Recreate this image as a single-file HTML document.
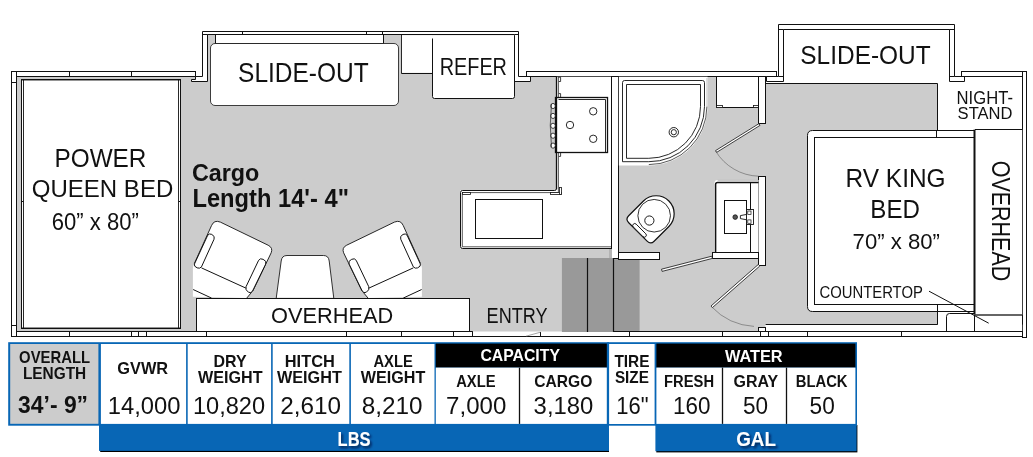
<!DOCTYPE html>
<html lang="en">
<head>
<meta charset="utf-8">
<title>Floorplan</title>
<style>html,body{margin:0;padding:0;background:#fff}svg{display:block}</style>
</head>
<body>
<svg width="1033" height="457" viewBox="0 0 1033 457" font-family="&quot;Liberation Sans&quot;, sans-serif">
<rect width="1033" height="457" fill="#fff"/>
<g id="floor">
<path d="M16.4 76.9 H207.6 V34.6 H514.7 V76.9 H765.6 V83.4 H937.6 V323.9 H765.6 V331.5 H16.4 Z" fill="#cccccc"/>
</g>
<g id="walls">
<rect x="16.50" y="71.50" width="179.00" height="5.00" fill="#fff" stroke="#111" stroke-width="1.0"/>
<line x1="69.50" y1="71.40" x2="69.50" y2="76.70" stroke="#111" stroke-width="1.0"/>
<line x1="131.50" y1="71.40" x2="131.50" y2="76.70" stroke="#111" stroke-width="1.0"/>
<rect x="16.50" y="331.50" width="1006.00" height="5.00" fill="#fff" stroke="#111" stroke-width="1.0"/>
<line x1="69.50" y1="331.40" x2="69.50" y2="336.60" stroke="#111" stroke-width="1.0"/>
<line x1="131.50" y1="331.40" x2="131.50" y2="336.60" stroke="#111" stroke-width="1.0"/>
<line x1="138.50" y1="331.40" x2="138.50" y2="336.60" stroke="#111" stroke-width="1.0"/>
<line x1="146.50" y1="331.40" x2="146.50" y2="336.60" stroke="#111" stroke-width="1.0"/>
<line x1="206.50" y1="331.40" x2="206.50" y2="336.60" stroke="#111" stroke-width="1.0"/>
<line x1="346.50" y1="331.40" x2="346.50" y2="336.60" stroke="#111" stroke-width="1.0"/>
<line x1="401.50" y1="331.40" x2="401.50" y2="336.60" stroke="#111" stroke-width="1.0"/>
<line x1="453.50" y1="331.40" x2="453.50" y2="336.60" stroke="#111" stroke-width="1.0"/>
<line x1="472.50" y1="331.40" x2="472.50" y2="336.60" stroke="#111" stroke-width="1.0"/>
<line x1="540.50" y1="331.40" x2="540.50" y2="336.60" stroke="#111" stroke-width="1.0"/>
<line x1="629.50" y1="331.40" x2="629.50" y2="336.60" stroke="#111" stroke-width="1.0"/>
<line x1="722.50" y1="331.40" x2="722.50" y2="336.60" stroke="#111" stroke-width="1.0"/>
<line x1="760.50" y1="331.40" x2="760.50" y2="336.60" stroke="#111" stroke-width="1.0"/>
<line x1="768.50" y1="331.40" x2="768.50" y2="336.60" stroke="#111" stroke-width="1.0"/>
<line x1="807.50" y1="331.40" x2="807.50" y2="336.60" stroke="#111" stroke-width="1.0"/>
<line x1="901.50" y1="331.40" x2="901.50" y2="336.60" stroke="#111" stroke-width="1.0"/>
<line x1="472.90" y1="331.50" x2="562.00" y2="331.50" stroke="#e4e4e4" stroke-width="1.2"/>
<path d="M526 336.2 L540.5 332.2" fill="none" stroke="#666" stroke-width="0.6"/>
<rect x="11.50" y="71.50" width="5.00" height="265.00" fill="#fff" stroke="#111" stroke-width="1.0"/>
<line x1="11.40" y1="325.50" x2="16.40" y2="325.50" stroke="#111" stroke-width="1.0"/>
<line x1="11.40" y1="82.50" x2="16.40" y2="82.50" stroke="#111" stroke-width="1.0"/>
<path d="M202.5 31.5 H518.5 V76.5 H530.5 V81.5 H514.5 V34.5 H207.5 V81.5 H191.5 V79.5 H195.5 V76.5 H202.5 Z" fill="#fff" stroke="#111" stroke-width="1.0"/>
<line x1="242.50" y1="31.40" x2="242.50" y2="34.70" stroke="#111" stroke-width="1.0"/>
<line x1="366.50" y1="31.40" x2="366.50" y2="34.70" stroke="#111" stroke-width="1.0"/>
<line x1="382.50" y1="31.40" x2="382.50" y2="34.70" stroke="#111" stroke-width="1.0"/>
<line x1="202.60" y1="34.50" x2="207.60" y2="34.50" stroke="#111" stroke-width="1.0"/>
<line x1="514.70" y1="34.50" x2="518.40" y2="34.50" stroke="#111" stroke-width="1.0"/>
<rect x="526.50" y="71.50" width="250.00" height="5.00" fill="#fff" stroke="#111" stroke-width="1.0"/>
<path d="M778.5 24.5 H954.5 V76.5 H964.5 V81.5 H949.5 V29.5 H783.5 V81.5 H766.5 V76.5 H778.5 Z" fill="#fff" stroke="#111" stroke-width="1.0"/>
<line x1="778.50" y1="29.50" x2="783.60" y2="29.50" stroke="#111" stroke-width="1.0"/>
<line x1="949.30" y1="76.50" x2="954.50" y2="76.50" stroke="#111" stroke-width="1.0"/>
<line x1="778.50" y1="76.50" x2="783.60" y2="76.50" stroke="#111" stroke-width="1.0"/>
<line x1="949.30" y1="29.50" x2="954.50" y2="29.50" stroke="#111" stroke-width="1.0"/>
<rect x="961.50" y="71.50" width="61.00" height="5.00" fill="#fff" stroke="#111" stroke-width="1.0"/>
<rect x="1022.50" y="71.50" width="4.00" height="266.00" fill="#fff" stroke="#111" stroke-width="1.0"/>
</g>
<g id="garage">
<rect x="21.50" y="79.50" width="159.00" height="249.00" fill="#fff" stroke="#111" stroke-width="1.0"/>
<line x1="23.50" y1="79.60" x2="23.50" y2="328.40" stroke="#111" stroke-width="0.9"/>
<line x1="178.50" y1="79.60" x2="178.50" y2="328.40" stroke="#111" stroke-width="0.9"/>
<line x1="21.10" y1="80.40" x2="180.80" y2="80.40" stroke="#111" stroke-width="0.5"/>
<line x1="21.10" y1="327.60" x2="180.80" y2="327.60" stroke="#111" stroke-width="0.5"/>
<line x1="21.10" y1="201.50" x2="23.30" y2="201.50" stroke="#111" stroke-width="1.0"/>
<line x1="178.70" y1="201.50" x2="180.80" y2="201.50" stroke="#111" stroke-width="1.0"/>
<rect x="215.50" y="34.50" width="168.00" height="9.00" fill="#fff" stroke="#111" stroke-width="1.0"/>
<rect x="210.50" y="43.50" width="188.00" height="62.00" fill="#fff" stroke="#111" stroke-width="0.8" rx="4.5"/>
<path d="M401.5 34.5 V73.5 H432.5" fill="none" stroke="#111" stroke-width="1.0"/>
<rect x="401.90" y="35.20" width="30.20" height="37.60" fill="#fff"/>
<path d="M432.1 38 V96.5 Q432.1 98.5 434.1 98.5 H512.4 Q514.4 98.5 514.4 96.5 V35.2 H432.1 Z" fill="#fff"/>
<path d="M432.5 38.5 V96.5 Q432.5 98.5 434.5 98.5 H512.5 Q514.5 98.5 514.5 96.5 V35.5" fill="none" stroke="#111" stroke-width="1.0"/>
</g>
<g id="chairs">
<g>
<path d="M192.90 296.81 L192.90 269.13 Q192.65 266.62 194.41 263.35 L211.53 225.60 Q214.05 219.56 220.34 222.08 L268.16 245.23 Q273.20 247.75 271.18 252.78 L253.06 290.52 L246.77 298.07 Z" fill="#fff"/>
<path d="M194.41 263.35 L211.53 225.60 Q214.05 219.56 220.34 222.08 L268.16 245.23 Q273.20 247.75 271.18 252.78 L253.06 290.52 L246.77 298.07" fill="none" stroke="#111" stroke-width="0.9"/>
<path d="M201.46 267.88 L246.77 288.51" fill="none" stroke="#111" stroke-width="1.0"/>
<path d="M194.41 264.10 L207.75 235.16 Q209.27 233.15 211.78 234.41 Q215.31 236.17 214.05 239.19 L201.46 266.87 Q199.70 268.88 197.18 267.88 Q193.66 266.37 194.41 264.10 Z" fill="#fff" stroke="#111" stroke-width="1.0"/>
<path d="M246.01 286.75 L258.60 260.33 Q260.11 257.81 263.13 259.32 Q267.16 261.08 265.65 264.10 L252.56 291.03 Q251.05 293.54 248.53 292.28 Q245.01 290.02 246.01 286.75 Z" fill="#fff" stroke="#111" stroke-width="1.0"/>
<path d="M193.16 289.52 L211.53 298.07" fill="none" stroke="#111" stroke-width="1.0"/>
</g>
<g transform="translate(614.80 0) scale(-1 1)">
<path d="M192.90 296.81 L192.90 269.13 Q192.65 266.62 194.41 263.35 L211.53 225.60 Q214.05 219.56 220.34 222.08 L268.16 245.23 Q273.20 247.75 271.18 252.78 L253.06 290.52 L246.77 298.07 Z" fill="#fff"/>
<path d="M194.41 263.35 L211.53 225.60 Q214.05 219.56 220.34 222.08 L268.16 245.23 Q273.20 247.75 271.18 252.78 L253.06 290.52 L246.77 298.07" fill="none" stroke="#111" stroke-width="0.9"/>
<path d="M201.46 267.88 L246.77 288.51" fill="none" stroke="#111" stroke-width="1.0"/>
<path d="M194.41 264.10 L207.75 235.16 Q209.27 233.15 211.78 234.41 Q215.31 236.17 214.05 239.19 L201.46 266.87 Q199.70 268.88 197.18 267.88 Q193.66 266.37 194.41 264.10 Z" fill="#fff" stroke="#111" stroke-width="1.0"/>
<path d="M246.01 286.75 L258.60 260.33 Q260.11 257.81 263.13 259.32 Q267.16 261.08 265.65 264.10 L252.56 291.03 Q251.05 293.54 248.53 292.28 Q245.01 290.02 246.01 286.75 Z" fill="#fff" stroke="#111" stroke-width="1.0"/>
<path d="M193.16 289.52 L211.53 298.07" fill="none" stroke="#111" stroke-width="1.0"/>
</g>
<path d="M276.2 298.4 L281.2 261 Q281.8 255.5 287 255.5 H323.5 Q328.6 255.5 329.2 261 L333.8 298.4 Z" fill="#fff" stroke="#111" stroke-width="0.85"/>
</g>
<rect x="196.50" y="298.50" width="273.00" height="33.00" fill="#fff" stroke="#111" stroke-width="1.0"/>
<g id="kitchen">
<path d="M556.4 76.7 H611.8 V248.4 H460.0 V190.6 H556.4 Z" fill="#fff"/>
<path d="M556.5 76.5 V188.5 Q556.5 190.5 554.5 190.5 H462.5 Q460.5 190.5 460.5 192.5 V246.5 Q460.5 248.5 462.5 248.5 H611.5" fill="none" stroke="#111" stroke-width="1.0"/>
<path d="M558.4 76.7 V192.6 H462.3 V246.8 H611.8" fill="none" stroke="#111" stroke-width="0.7"/>
<rect x="475.50" y="199.50" width="67.00" height="39.00" fill="#fff" stroke="#111" stroke-width="1.0"/>
<rect x="611.50" y="76.50" width="7.00" height="182.00" fill="#fff" stroke="#111" stroke-width="1.0"/>
<rect x="555.50" y="97.50" width="52.00" height="55.00" fill="#fff" stroke="#111" stroke-width="1.3"/>
<path d="M558.5 99.5 H605.5 V152.5" fill="none" stroke="#111" stroke-width="0.9"/>
<circle cx="593.20" cy="111.30" r="3.70" fill="#fff" stroke="#111" stroke-width="0.9"/>
<circle cx="570.00" cy="125.00" r="3.70" fill="#fff" stroke="#111" stroke-width="0.9"/>
<circle cx="593.20" cy="138.80" r="3.70" fill="#fff" stroke="#111" stroke-width="0.9"/>
<ellipse cx="553.0" cy="106.0" rx="2.3" ry="2.6" fill="#fff" stroke="#111" stroke-width="0.8"/>
<ellipse cx="553.0" cy="115.9" rx="2.3" ry="2.6" fill="#fff" stroke="#111" stroke-width="0.8"/>
<ellipse cx="553.0" cy="125.8" rx="2.3" ry="2.6" fill="#fff" stroke="#111" stroke-width="0.8"/>
<ellipse cx="553.0" cy="135.7" rx="2.3" ry="2.6" fill="#fff" stroke="#111" stroke-width="0.8"/>
<ellipse cx="553.0" cy="145.6" rx="2.3" ry="2.6" fill="#fff" stroke="#111" stroke-width="0.8"/>
<path d="M551.5 104 Q549 125 551.5 147" fill="none" stroke="#111" stroke-width="0.6"/>
<path d="M558.5 77.2 H560.6 V81.5 H558.8" fill="none" stroke="#111" stroke-width="0.8"/>
<path d="M558.8 93.6 H560.6 V97.7" fill="none" stroke="#111" stroke-width="0.8"/>
<path d="M558.8 156.4 H560.6 V152.6" fill="none" stroke="#111" stroke-width="0.8"/>
<line x1="556.50" y1="76.70" x2="556.50" y2="189.00" stroke="#111" stroke-width="1.3"/>
<rect x="550.50" y="192.50" width="11.00" height="2.00" fill="#fff" stroke="#111" stroke-width="0.8"/>
<rect x="559.50" y="187.50" width="2.00" height="7.00" fill="#fff" stroke="#111" stroke-width="0.8"/>
<rect x="462.50" y="192.50" width="8.00" height="2.00" fill="#fff" stroke="#111" stroke-width="0.8"/>
</g>
<g id="steps">
<rect x="609.00" y="249.00" width="3.00" height="9.50" fill="#b4b4b4"/>
<rect x="561.90" y="258.00" width="51.40" height="74.00" fill="#999999"/>
<rect x="613.30" y="259.20" width="26.30" height="71.80" fill="#999999"/>
<line x1="587.50" y1="258.00" x2="587.50" y2="332.00" stroke="#111" stroke-width="1.2"/>
<line x1="613.50" y1="258.00" x2="613.50" y2="332.00" stroke="#111" stroke-width="1.2"/>
</g>
<g id="bath">
<path d="M618.8 76.7 H707.6 V106.6 A58.8 58.8 0 0 1 648.8 165.4 H618.8 Z" fill="#fff"/>
<path d="M622.5 161.7 V82.6 Q622.5 80.5 624.6 80.5 H702.4 Q704.5 80.5 704.5 82.6 V106.6 A55.3 55.3 0 0 1 648.8 161.7 Z" fill="none" stroke="#111" stroke-width="0.9"/>
<path d="M626.5 158.3 V84.5 H700.5 V106.6 A51.7 51.7 0 0 1 648.8 158.3 Z" fill="none" stroke="#111" stroke-width="0.9"/>
<path d="M706.9 106.6 A58.1 58.1 0 0 1 648.8 164.6" fill="none" stroke="#111" stroke-width="0.7"/>
<line x1="706.90" y1="78.00" x2="706.90" y2="106.60" stroke="#aaa" stroke-width="0.6"/>
<circle cx="673.80" cy="132.20" r="4.70" fill="#fff" stroke="#111" stroke-width="0.9"/>
<circle cx="673.80" cy="132.20" r="2.60" fill="#fff" stroke="#111" stroke-width="0.9"/>
<rect x="716.50" y="76.50" width="42.00" height="31.00" fill="#fff" stroke="#111" stroke-width="1.0"/>
<rect x="716.50" y="105.50" width="6.00" height="2.00" fill="#fff" stroke="#111" stroke-width="0.8"/>
<rect x="753.50" y="105.50" width="5.00" height="2.00" fill="#fff" stroke="#111" stroke-width="0.8"/>
<rect x="758.50" y="76.50" width="7.00" height="47.00" fill="#fff" stroke="#111" stroke-width="1.0"/>
<rect x="758.50" y="176.50" width="7.00" height="89.00" fill="#fff" stroke="#111" stroke-width="1.0"/>
<path d="M759.0 123.6 L715.6 150.6 L716.6 152.4 L760.0 125.4 Z" fill="#fff" stroke="#111" stroke-width="0.8"/>
<path d="M715.8 151.3 A52 52 0 0 0 758.6 176.2" fill="none" stroke="#555" stroke-width="0.55"/>
<path d="M714.5 252.3 V183 Q714.5 180.1 717.5 180.1 H758.6 V252.3 Z" fill="#fff"/>
<path d="M715.6 252.3 V184.4 Q715.6 182.4 717.6 182.4 H758.6" fill="none" stroke="#111" stroke-width="1.5"/>
<line x1="717.60" y1="180.40" x2="758.60" y2="180.40" stroke="#999" stroke-width="0.6"/>
<line x1="750.50" y1="182.40" x2="750.50" y2="252.30" stroke="#111" stroke-width="1.0"/>
<rect x="724.50" y="200.50" width="22.00" height="33.00" fill="#fff" stroke="#111" stroke-width="1.0"/>
<circle cx="735.20" cy="217.10" r="2.30" fill="#555" stroke="#111" stroke-width="0.8"/>
<path d="M740.4 215.6 L746.7 214.4 V219.8 L740.4 218.6 Z" fill="#fff" stroke="#111" stroke-width="0.9"/>
<rect x="746.50" y="209.50" width="7.00" height="15.00" fill="#fff" stroke="#111" stroke-width="0.9"/>
<rect x="747.80" y="211.00" width="3.20" height="3.40" fill="#fff" stroke="#111" stroke-width="0.7"/>
<rect x="747.80" y="219.90" width="3.20" height="3.40" fill="#fff" stroke="#111" stroke-width="0.7"/>
<rect x="712.50" y="252.50" width="46.00" height="6.00" fill="#fff" stroke="#111" stroke-width="1.0"/>
<g transform="translate(653.4 216.5) rotate(45)">
<path d="M-18 -3.9 A18 18 0 0 1 18 -3.9 L18 17 Q18 21.9 13 21.9 H-13 Q-18 21.9 -18 17 Z" fill="#fff" stroke="#111" stroke-width="1.2"/>
<circle cx="0.00" cy="-1.10" r="16.30" fill="#fff" stroke="#111" stroke-width="0.8"/>
<circle cx="0.00" cy="5.70" r="4.60" fill="#fff" stroke="#111" stroke-width="0.9"/>
<rect x="-8.8" y="17.6" width="17.6" height="4.0" rx="2" fill="#fff" stroke="#111" stroke-width="0.9"/>
</g>
<rect x="618.50" y="252.50" width="41.00" height="7.00" fill="#fff" stroke="#111" stroke-width="1.0"/>
<path d="M661.5 269.2 L711.8 256.2 L712.4 258.4 L662.1 271.4 Z" fill="#fff" stroke="#111" stroke-width="0.8"/>
<path d="M758.4 264.4 L711.0 306.0 L712.4 307.6 L759.8 266.0 Z" fill="#fff" stroke="#111" stroke-width="0.8"/>
<path d="M711.6 306.8 A63.3 63.3 0 0 0 754 326.4" fill="none" stroke="#555" stroke-width="0.55"/>
</g>
<g id="bedroom">
<path d="M765.5 83.5 H937.5 V130.5" fill="none" stroke="#111" stroke-width="1.0"/>
<rect x="765.60" y="324.60" width="256.60" height="6.40" fill="#fff"/>
<line x1="765.60" y1="324.50" x2="937.60" y2="324.50" stroke="#111" stroke-width="1.0"/>
<line x1="937.50" y1="311.30" x2="937.50" y2="324.60" stroke="#111" stroke-width="1.0"/>
<rect x="758.50" y="327.50" width="7.00" height="4.00" fill="#fff" stroke="#111" stroke-width="1.0"/>
<path d="M974.6 130.2 H812.5 Q807.5 130.2 807.5 135.2 V306.3 Q807.5 311.3 812.5 311.3 H974.6 Z" fill="#fff"/>
<path d="M975.5 130.5 H812.5 Q807.5 130.5 807.5 135.5 V306.5 Q807.5 311.5 812.5 311.5 H974.5" fill="none" stroke="#111" stroke-width="1.0"/>
<rect x="814.50" y="137.50" width="160.00" height="167.00" fill="#fff" stroke="#111" stroke-width="1.0"/>
<line x1="936.50" y1="130.20" x2="936.50" y2="137.20" stroke="#111" stroke-width="1.0"/>
<line x1="937.50" y1="304.60" x2="937.50" y2="311.30" stroke="#111" stroke-width="1.0"/>
<rect x="975.00" y="129.60" width="47.20" height="185.40" fill="#fff"/>
<line x1="975.00" y1="129.50" x2="1022.20" y2="129.50" stroke="#111" stroke-width="1.0"/>
<line x1="975.00" y1="315.00" x2="1022.20" y2="315.00" stroke="#333" stroke-width="1.6"/>
<line x1="974.50" y1="129.60" x2="974.50" y2="314.50" stroke="#111" stroke-width="2.0"/>
<line x1="974.50" y1="314.50" x2="974.50" y2="331.40" stroke="#111" stroke-width="1.0"/>
<path d="M946.5 331.5 V316.5 Q946.5 313.5 949.5 313.5 H974.5" fill="none" stroke="#111" stroke-width="1.0"/>
<line x1="929.00" y1="291.20" x2="988.70" y2="323.20" stroke="#111" stroke-width="1.0"/>
</g>
<g id="table">
<defs><filter id="sh" x="-5%" y="-20%" width="110%" height="150%"><feDropShadow dx="0.8" dy="1.0" stdDeviation="0.5" flood-color="#000" flood-opacity="0.9"/></filter><filter id="ts" x="-20%" y="-30%" width="150%" height="180%"><feDropShadow dx="2.2" dy="2.2" stdDeviation="1.3" flood-color="#00183c" flood-opacity="0.75"/></filter></defs>
<rect x="100.20" y="425.00" width="508.80" height="27.00" fill="#000"/>
<rect x="99.00" y="424.00" width="510.00" height="26.90" fill="#0866b5"/>
<rect x="656.30" y="425.00" width="201.10" height="27.40" fill="#000"/>
<rect x="655.40" y="424.00" width="201.20" height="27.20" fill="#0866b5"/>
<rect x="8.20" y="342.20" width="600.80" height="83.50" fill="#0866b5"/>
<rect x="607.20" y="342.20" width="249.80" height="83.50" fill="#0866b5"/>
<rect x="10.20" y="344.00" width="88.20" height="79.80" fill="#cccccc"/>
<rect x="100.90" y="344.00" width="85.20" height="79.90" fill="#fff"/>
<rect x="187.70" y="344.00" width="83.40" height="79.90" fill="#fff"/>
<rect x="272.70" y="344.00" width="76.60" height="79.90" fill="#fff"/>
<rect x="350.90" y="344.00" width="83.60" height="79.90" fill="#fff"/>
<rect x="435.80" y="343.60" width="171.00" height="24.00" fill="#000"/>
<rect x="435.80" y="367.60" width="171.00" height="56.30" fill="#fff"/>
<line x1="519.50" y1="367.60" x2="519.50" y2="423.90" stroke="#111" stroke-width="1.3"/>
<rect x="609.10" y="344.00" width="45.50" height="80.00" fill="#fff"/>
<rect x="656.40" y="343.60" width="199.00" height="24.00" fill="#000"/>
<rect x="656.40" y="367.60" width="199.00" height="56.30" fill="#fff"/>
<line x1="722.50" y1="367.60" x2="722.50" y2="423.90" stroke="#111" stroke-width="1.3"/>
<line x1="786.50" y1="367.60" x2="786.50" y2="423.90" stroke="#111" stroke-width="1.3"/>
</g>
<g id="text" font-family="&quot;Liberation Sans&quot;, sans-serif" style="opacity:0.999">
<text transform="translate(54.50 166.50) scale(0.9612 1)" font-size="25.31" fill="#111">POWER</text>
<text transform="translate(31.80 196.80) scale(0.9831 1)" font-size="24.44" fill="#111">QUEEN BED</text>
<text transform="translate(51.80 229.60) scale(0.9570 1)" font-size="23.08" fill="#111">60” x 80”</text>
<text transform="translate(191.90 181.30) scale(0.9472 1)" font-size="24.66" font-weight="700" fill="#111">Cargo</text>
<text transform="translate(192.40 206.60) scale(0.9161 1)" font-size="25.89" font-weight="700" fill="#111">Length 14'- 4"</text>
<text transform="translate(238.10 81.70) scale(0.9104 1)" font-size="26.91" fill="#111">SLIDE-OUT</text>
<text transform="translate(439.70 74.90) scale(0.8222 1)" font-size="24.15" fill="#111">REFER</text>
<text transform="translate(271.00 323.30) scale(0.9474 1)" font-size="22.98" fill="#111">OVERHEAD</text>
<text transform="translate(486.60 322.50) scale(0.8015 1)" font-size="22.55" fill="#111">ENTRY</text>
<text transform="translate(800.30 63.70) scale(0.9658 1)" font-size="25.31" fill="#111">SLIDE-OUT</text>
<text transform="translate(956.60 103.60) scale(0.9006 1)" font-size="18.47" fill="#111">NIGHT-</text>
<text transform="translate(957.60 118.90) scale(0.9731 1)" font-size="17.02" fill="#111">STAND</text>
<text transform="translate(845.60 187.30) scale(0.9432 1)" font-size="25.89" fill="#111">RV KING</text>
<text transform="translate(870.30 218.20) scale(0.9592 1)" font-size="25.16" fill="#111">BED</text>
<text transform="translate(852.60 249.30) scale(0.9713 1)" font-size="22.80" fill="#111">70” x 80”</text>
<text transform="translate(819.40 297.50) scale(0.9288 1)" font-size="16.00" fill="#111">COUNTERTOP</text>
<text transform="translate(992.00 160.70) rotate(90) scale(0.8589 1)" font-size="25.02" fill="#111">OVERHEAD</text>
<text transform="translate(19.10 363.20) scale(0.9246 1)" font-size="16.07" font-weight="700" fill="#111">OVERALL</text>
<text transform="translate(22.90 379.00) scale(0.9427 1)" font-size="16.36" font-weight="700" fill="#111">LENGTH</text>
<text transform="translate(18.10 413.00) scale(0.9737 1)" font-size="23.51" font-weight="700" fill="#111">34’- 9”</text>
<text transform="translate(117.30 374.00) scale(0.9894 1)" font-size="16.51" font-weight="700" fill="#111">GVWR</text>
<text transform="translate(107.80 413.70) scale(1.0127 1)" font-size="23.51" fill="#111">14,000</text>
<text transform="translate(213.50 366.80) scale(0.9778 1)" font-size="16.36" font-weight="700" fill="#111">DRY</text>
<text transform="translate(198.00 383.20) scale(0.9697 1)" font-size="16.65" font-weight="700" fill="#111">WEIGHT</text>
<text transform="translate(192.90 413.70) scale(1.0043 1)" font-size="23.51" fill="#111">10,820</text>
<text transform="translate(284.80 366.80) scale(1.0002 1)" font-size="16.36" font-weight="700" fill="#111">HITCH</text>
<text transform="translate(277.00 383.20) scale(0.9742 1)" font-size="16.65" font-weight="700" fill="#111">WEIGHT</text>
<text transform="translate(280.30 413.70) scale(1.0350 1)" font-size="23.51" fill="#111">2,610</text>
<text transform="translate(373.40 366.80) scale(0.9026 1)" font-size="16.36" font-weight="700" fill="#111">AXLE</text>
<text transform="translate(360.80 383.20) scale(0.9697 1)" font-size="16.65" font-weight="700" fill="#111">WEIGHT</text>
<text transform="translate(361.70 413.70) scale(1.0350 1)" font-size="23.51" fill="#111">8,210</text>
<text transform="translate(480.40 360.90) scale(0.9614 1)" font-size="16.44" font-weight="700" fill="#fff">CAPACITY</text>
<text transform="translate(456.20 386.50) scale(0.9107 1)" font-size="16.22" font-weight="700" fill="#111">AXLE</text>
<text transform="translate(534.30 386.50) scale(0.9764 1)" font-size="15.99" font-weight="700" fill="#111">CARGO</text>
<text transform="translate(446.10 413.70) scale(1.0248 1)" font-size="23.51" fill="#111">7,000</text>
<text transform="translate(533.60 413.70) scale(1.0163 1)" font-size="23.51" fill="#111">3,180</text>
<text transform="translate(614.40 367.00) scale(0.9589 1)" font-size="16.07" font-weight="700" fill="#111">TIRE</text>
<text transform="translate(614.90 383.00) scale(0.9159 1)" font-size="16.70" font-weight="700" fill="#111">SIZE</text>
<text transform="translate(616.30 413.70) scale(0.9361 1)" font-size="23.51" fill="#111">16"</text>
<text transform="translate(724.90 361.50) scale(0.9941 1)" font-size="16.44" font-weight="700" fill="#fff">WATER</text>
<text transform="translate(664.10 386.50) scale(0.9094 1)" font-size="16.22" font-weight="700" fill="#111">FRESH</text>
<text transform="translate(733.50 386.50) scale(0.9996 1)" font-size="15.99" font-weight="700" fill="#111">GRAY</text>
<text transform="translate(795.70 386.50) scale(0.9143 1)" font-size="16.22" font-weight="700" fill="#111">BLACK</text>
<text transform="translate(673.00 413.70) scale(0.9539 1)" font-size="23.51" fill="#111">160</text>
<text transform="translate(742.90 413.70) scale(0.9596 1)" font-size="23.51" fill="#111">50</text>
<text transform="translate(809.60 413.70) scale(0.9634 1)" font-size="23.51" fill="#111">50</text>
<text transform="translate(337.60 445.50) scale(0.7823 1)" font-size="21.09" font-weight="700" fill="#fff" filter="url(#ts)">LBS</text>
<text transform="translate(736.20 445.50) scale(0.9051 1)" font-size="20.79" font-weight="700" fill="#fff" filter="url(#ts)">GAL</text>
</g>
</svg>
</body>
</html>
